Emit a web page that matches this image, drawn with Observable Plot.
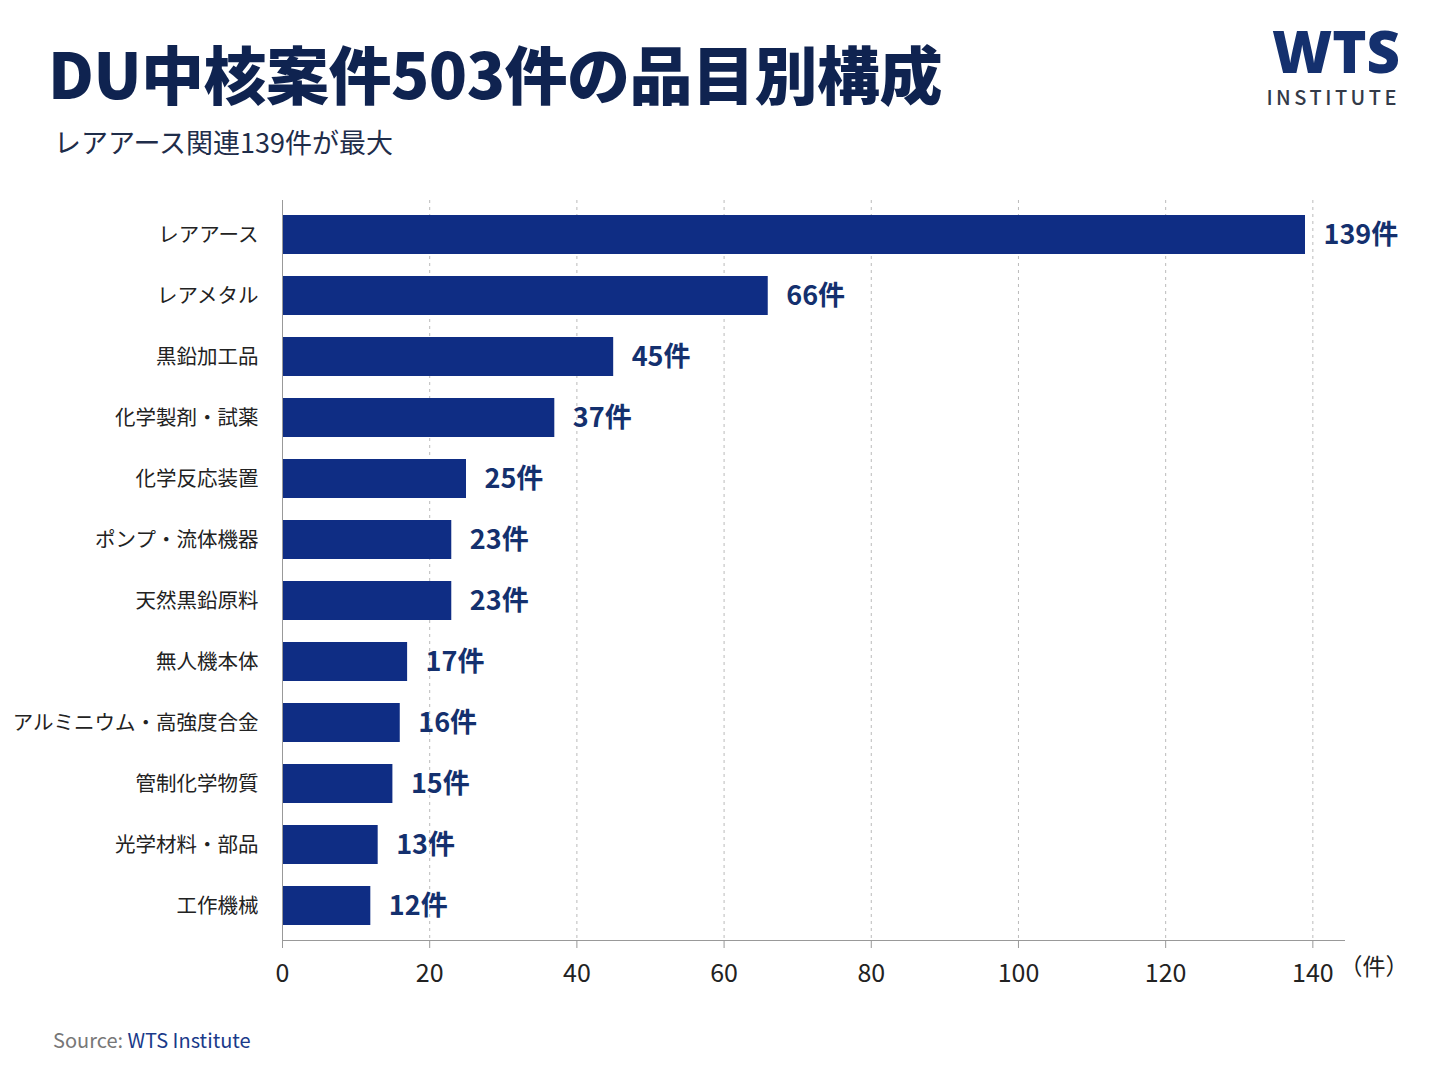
<!DOCTYPE html>
<html><head><meta charset="utf-8">
<script src="https://cdn.jsdelivr.net/npm/d3@7"></script>
<script src="https://cdn.jsdelivr.net/npm/@observablehq/plot@0.6"></script>
<style>
body{margin:0;background:#fff;font-family:"Noto Sans CJK JP","Noto Sans",sans-serif;width:1448px;height:1086px;position:relative;overflow:hidden}
#title{position:absolute;left:48px;top:26px;font-size:63px;font-weight:900;color:#0f2350;letter-spacing:-0.5px}
#sub{position:absolute;left:54px;top:122px;font-size:27px;color:#1f2d4a}
#logo{position:absolute;right:48px;top:22px;text-align:right;color:#14306e}
#logo .a{font-size:58px;font-weight:900;line-height:58px;font-family:"Noto Sans",sans-serif}
#logo .b{font-size:20px;letter-spacing:3.5px;color:#333a48;font-weight:500;line-height:22px;margin-top:6px}
#chart{position:absolute;left:0;top:190px}
#src{position:absolute;left:53px;top:1025px;font-size:20px;color:#777}
#src span{color:#1a3a8a}
</style></head><body>
<div id="title">DU中核案件503件の品目別構成</div>
<div id="sub">レアアース関連139件が最大</div>
<div id="logo"><div class="a">WTS</div><div class="b">INSTITUTE</div></div>
<div id="chart"></div>
<div id="src">Source: <span>WTS Institute</span></div>
<script>
const categories=["レアアース","レアメタル","黒鉛加工品","化学製剤・試薬","化学反応装置","ポンプ・流体機器","天然黒鉛原料","無人機本体","アルミニウム・高強度合金","管制化学物質","光学材料・部品","工作機械"];
const counts=[139,66,45,37,25,23,23,17,16,15,13,12];
const xTicks=[0,20,40,60,80,100,120,140];
const data=categories.map((c,i)=>({c,v:counts[i]}));
const navy="#0f2d84";
const p=Plot.plot({
  width:1448,height:812,marginLeft:282,marginRight:104,marginTop:10,marginBottom:62,
  style:{fontFamily:'"Noto Sans CJK JP",sans-serif',background:"transparent"},
  x:{domain:[0,144.3],ticks:xTicks,label:null},
  y:{domain:categories,label:null,padding:0.36,paddingOuter:0.15},
  marks:[
    Plot.gridX(xTicks.slice(1),{stroke:"#bbb",strokeDasharray:"3,4",strokeOpacity:1}),
    Plot.barX(data,{x:"v",y:"c",fill:navy}),
    Plot.text(data,{x:"v",y:"c",text:d=>d.v+"件",dx:18,textAnchor:"start",fontSize:27,fontWeight:"bold",fill:"#14306e"}),
    Plot.ruleX([0],{stroke:"#999"}),
    Plot.frame({anchor:"bottom",stroke:"#999"}),
    Plot.axisX(xTicks,{tickSize:8,fontSize:25,tickPadding:16,stroke:"#999",fill:"#222"}),
    Plot.axisY({tickSize:0,tickPadding:24,fontSize:20.5,fill:"#222"}),
    Plot.text(["（件）"],{frameAnchor:"bottom-right",dy:34,dx:64,fontSize:23,fill:"#222"})
  ]
});
document.getElementById("chart").appendChild(p);
</script>
</body></html>
